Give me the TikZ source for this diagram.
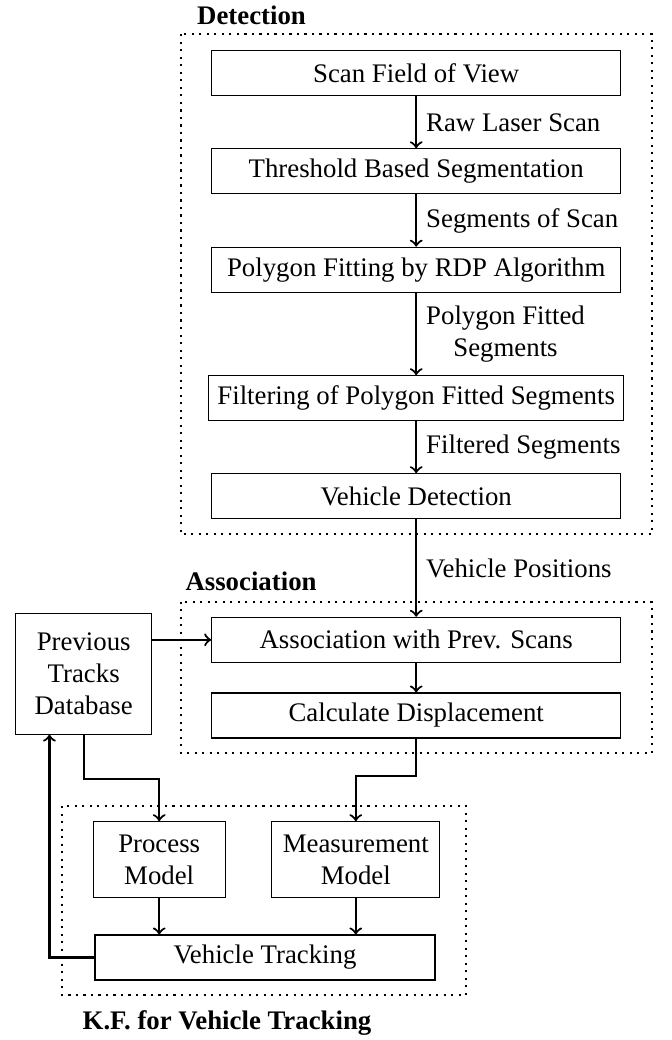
\documentclass[tikz,border=0pt]{standalone}
\usepackage{fontspec}
\setmainfont{Liberation Serif}
\usetikzlibrary{calc}
\begin{document}
\begin{tikzpicture}[x=0.3731pt,y=-0.3731pt,
  box/.style={draw, line width=0.4pt, rectangle, minimum width=152.6pt, minimum height=16.79pt, font=\fontsize{10}{12}\selectfont},
  conn/.style={->, thick},
  elabel/.style={right, font=\fontsize{10}{12}\selectfont, align=center},
  groupbox/.style={thick, dotted},
  grouplabel/.style={font=\fontsize{10}{12}\selectfont\bfseries}
]
\useasboundingbox (0,0) rectangle (672,1040);

% group frames
\draw[groupbox] (180.7,34.3) rectangle (651.7,534.3);
\draw[groupbox] (181,601.7) rectangle (651.7,753.3);
\draw[groupbox] (62.3,806) rectangle (466,995);

\node[grouplabel, anchor=west, inner sep=0pt] (ldet) at (196.7,15) {Detection};
\node[grouplabel, anchor=west, inner sep=0pt] (lasc) at (185,581.7) {Association};
\node[grouplabel, inner sep=0pt] (lkf) at (227,1023) {K.F. for Vehicle Tracking};

% detection chain
\node[box] (scan) at (416.2,73.2) {Scan Field of View};
\node[box] (thr) at (416.2,171.3) {Threshold Based Segmentation};
\node[box] (poly) at (416.2,269.7) {Polygon Fitting by RDP Algorithm};
\node[box] (filt) at (416.2,398.2) {Filtering of Polygon Fitted Segments};
\node[box] (vdet) at (416.2,496.2) {Vehicle Detection};

% association
\node[box] (assoc) at (416.2,639.8) {Association with Prev. Scans};
\node[box] (calc) at (416.2,715.5) {Calculate Displacement};

% database
\node[box, minimum width=50.74pt, minimum height=45.03pt, align=center] (ptd) at (83.7,673.7) {Previous\\Tracks\\Database};

% Kalman filter
\node[box, minimum width=49.14pt, minimum height=28.21pt, align=center] (proc) at (159.2,859.5) {Process\\Model};
\node[box, minimum width=62.79pt, minimum height=28.21pt, align=center] (meas) at (355.8,859.5) {Measurement\\Model};
\node[box, minimum width=126.85pt] (vt) at (265,957.5) {Vehicle Tracking};

% connectors
\draw[conn] (scan) -- node[elabel] {Raw Laser Scan} (thr);
\draw[conn] (thr) -- node[elabel] {Segments of Scan} (poly);
\draw[conn] (poly) -- node[elabel] {Polygon Fitted\\Segments} (filt);
\draw[conn] (filt) -- node[elabel] {Filtered Segments} (vdet);
\draw[conn] (vdet) -- node[elabel] {Vehicle Positions} (assoc);
\draw[conn] (assoc) -- (calc);
\draw[conn] (ptd.east |- assoc.west) -- (assoc.west);
\draw[conn] (ptd.south) -- (ptd.south |- 0,779.3) -| (proc.north);
\draw[conn] (calc.south) -- (calc.south |- 0,776) -| (meas.north);
\draw[conn] (proc.south) -- (proc.south |- vt.north);
\draw[conn] (meas.south) -- (meas.south |- vt.north);
\draw[conn] (vt.west) -| ($(ptd.south west)!0.25!(ptd.south east)$);
\end{tikzpicture}
\end{document}
